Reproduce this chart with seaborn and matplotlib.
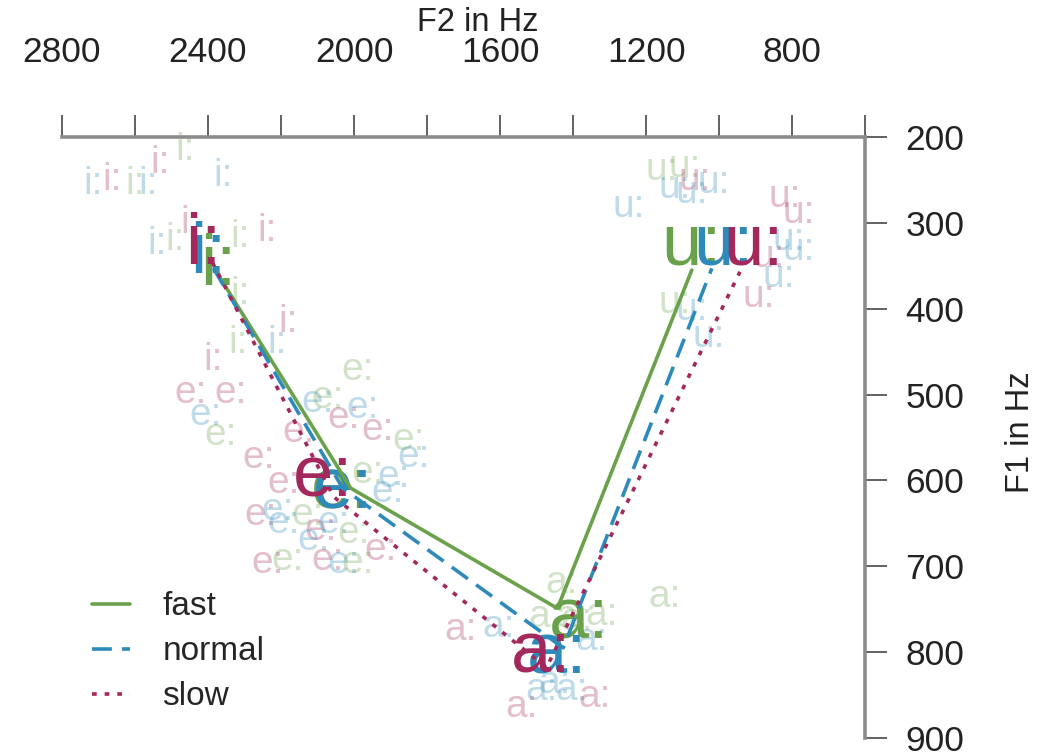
import matplotlib
matplotlib.use('Agg')
import matplotlib.pyplot as plt
import numpy as np
import pandas as pd
import seaborn as sns

speeds = ['fast', 'normal', 'slow']
vowels = ['i:', 'e:', 'a:', 'u:']
speed_colors = {'fast': '#6aa24c', 'normal': '#2e8abb', 'slow': '#a3285c'}

# centroid polygon, vowel order i: e: a: u:  (Hz)
fast_f2 = [2380, 2009, 1443, 1075]
fast_f1 = [355, 609, 749, 355]
normal_f2 = [2385, 2031, 1427, 1020]
normal_f1 = [353, 609, 795, 353]
slow_f2 = [2388, 2056, 1473, 943]
slow_f1 = [346, 619, 818, 357]

# big centroid labels
fast_lab_f2 = [2372, 2036, 1383, 1075]
fast_lab_f1 = [351, 611, 763, 327]
normal_lab_f2 = [2399, 2031, 1443, 987]
normal_lab_f1 = [337, 611, 803, 327]
slow_lab_f2 = [2413, 2086, 1487, 905]
slow_lab_f1 = [326, 597, 802, 327]

# single tokens
i_f2 = [2715, 2663, 2600, 2565, 2531, 2462, 2358, 2540, 2311, 2237, 2311, 2182,
        2385, 2319, 2210, 2490, 2450]
i_f1 = [255, 250, 255, 255, 230, 215, 245, 325, 316, 310, 383, 415,
        460, 440, 440, 320, 300]
i_speed = ['normal', 'slow', 'fast', 'normal', 'slow', 'fast', 'normal', 'normal', 'fast',
           'slow', 'fast', 'slow', 'slow', 'fast', 'normal', 'fast', 'slow']

e_f2 = [2448, 2339, 2407, 2366, 2262, 1990, 2100, 2072, 2028, 1976, 1935, 1852,
        1836, 2152, 1962, 1891, 1907, 2193, 2256, 2209, 2193, 2127, 2091, 2111,
        2056, 2001, 1927, 2237, 2182, 2072, 2028, 1990]
e_f1 = [498, 498, 524, 547, 574, 471, 509, 504, 527, 516, 541, 553,
        573, 544, 591, 596, 614, 603, 640, 634, 650, 640, 658, 669,
        650, 661, 681, 696, 693, 693, 696, 696]
e_speed = ['slow', 'slow', 'normal', 'fast', 'slow', 'fast', 'normal', 'fast',
           'slow', 'normal', 'slow', 'fast', 'normal', 'slow', 'fast', 'normal',
           'normal', 'slow', 'slow', 'normal', 'normal', 'fast', 'slow', 'normal',
           'normal', 'fast', 'slow', 'slow', 'fast', 'slow', 'normal', 'fast']

a_f2 = [1707, 1605, 1432, 1149, 1479, 1405, 1451, 1405, 1342, 1542, 1487, 1350, 1391, 1322]
a_f1 = [774, 771, 719, 736, 759, 759, 836, 844, 852, 864, 844, 786, 762, 757]
a_speed = ['slow', 'normal', 'fast', 'fast', 'fast', 'fast', 'normal', 'normal',
           'slow', 'slow', 'normal', 'normal', 'fast', 'fast']

u_f2 = [1158, 1094, 1067, 1122, 1075, 1248, 1015, 820, 781, 809, 781, 864,
        836, 891, 1122, 1075, 1028]
u_f1 = [238, 235, 250, 259, 265, 282, 254, 270, 289, 320, 332, 340,
        363, 386, 393, 401, 433]
u_speed = ['fast', 'fast', 'slow', 'normal', 'normal', 'normal', 'normal', 'slow',
           'slow', 'normal', 'normal', 'slow', 'normal', 'slow', 'fast', 'normal',
           'normal']

lines = pd.DataFrame({
    'F2': fast_f2 + normal_f2 + slow_f2,
    'F1': fast_f1 + normal_f1 + slow_f1,
    'speed': ['fast'] * 4 + ['normal'] * 4 + ['slow'] * 4,
})
labs = {'fast': (fast_lab_f2, fast_lab_f1),
        'normal': (normal_lab_f2, normal_lab_f1),
        'slow': (slow_lab_f2, slow_lab_f1)}
tokens = {'i:': (i_f2, i_f1, i_speed), 'e:': (e_f2, e_f1, e_speed),
          'a:': (a_f2, a_f1, a_speed), 'u:': (u_f2, u_f1, u_speed)}

sns.set_style('white')
plt.rcParams['font.family'] = ['Liberation Sans', 'DejaVu Sans']

fig = plt.figure(figsize=(10.5, 7.56), dpi=100)
ax = fig.add_axes([0.059, 0.0238, 0.765, 0.795])

# faint tokens
for v in vowels:
    f2s, f1s, sps = tokens[v]
    for x, y, s in zip(f2s, f1s, sps):
        ax.text(x, y, v, color=speed_colors[s], alpha=0.3, fontsize=28,
                ha='center', va='center', zorder=1)

# centroid labels
for s in speeds:
    for v, x, y in zip(vowels, labs[s][0], labs[s][1]):
        ax.text(x, y, v, color=speed_colors[s], fontsize=52,
                ha='center', va='center', zorder=3)

sns.lineplot(data=lines, x='F2', y='F1', hue='speed', style='speed',
             palette=speed_colors,
             dashes={'fast': '', 'normal': (5.5, 2.8), 'slow': (1.3, 2.2)},
             sort=False, estimator=None, lw=2.6, ax=ax, zorder=4)

ax.set_xlim(2800, 600)
ax.set_ylim(900, 200)

for side in ['left', 'bottom']:
    ax.spines[side].set_visible(False)
for side in ['top', 'right']:
    ax.spines[side].set_visible(True)
    ax.spines[side].set_color('#8c8c8c')
    ax.spines[side].set_linewidth(2.6)

ax.xaxis.tick_top()
ax.set_xticks([2800, 2400, 2000, 1600, 1200, 800])
ax.set_xticks([2600, 2200, 1800, 1400, 1000, 600], minor=True)
ax.yaxis.tick_right()
ax.set_yticks(list(range(200, 901, 100)))

ax.tick_params(axis='x', which='both', direction='out', length=16, width=1.3,
               color='#555555', pad=33, labelsize=25.5, labelcolor='#222222',
               top=True, bottom=False, labeltop=True, labelbottom=False)
ax.tick_params(axis='y', which='both', direction='out', length=16, width=1.3,
               color='#555555', pad=13, labelsize=25.5, labelcolor='#222222',
               right=True, left=False, labelright=True, labelleft=False)

ax.xaxis.set_label_position('top')
ax.set_xlabel('F2 in Hz', fontsize=23.5, color='#222222')
ax.xaxis.set_label_coords(0.518, 1.19)
ax.xaxis.label.set_va('center')
ax.yaxis.set_label_position('right')
ax.set_ylabel('F1 in Hz', fontsize=23.5, color='#222222', rotation=90)
ax.yaxis.set_label_coords(1.193, 0.509)
ax.yaxis.label.set_va('center')

sns.move_legend(ax, 'upper left', bbox_to_anchor=(0.0876, 0.218),
                bbox_transform=fig.transFigure, title=None, frameon=False,
                fontsize=24, handlelength=1.15, handletextpad=0.96,
                labelspacing=0.42, borderpad=0, borderaxespad=0)

fig.savefig('out.png', dpi=100)
